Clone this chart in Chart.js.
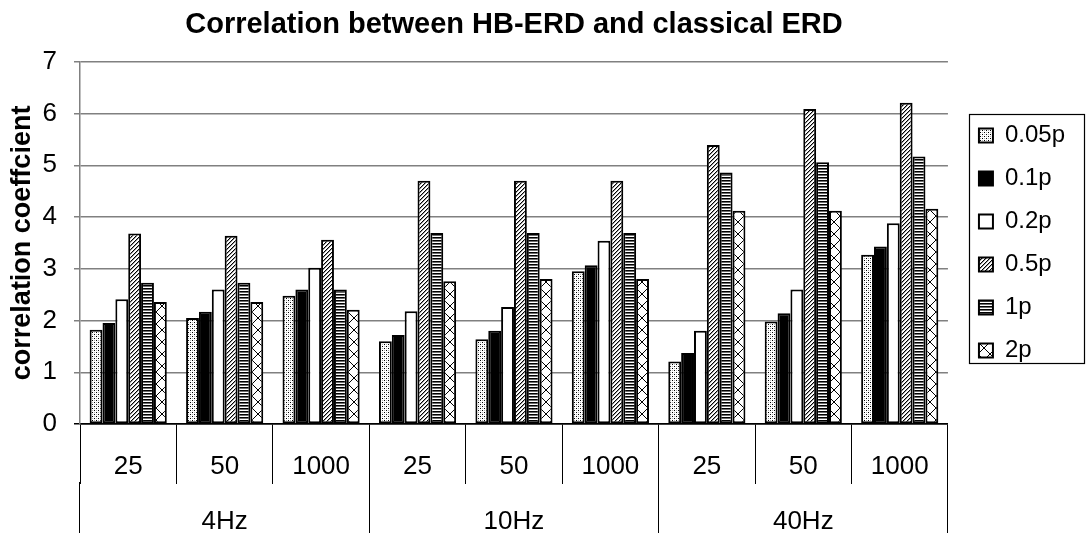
<!DOCTYPE html>
<html>
<head>
<meta charset="utf-8">
<script src="https://cdn.jsdelivr.net/npm/chart.js@4.4.1/dist/chart.umd.min.js"></script>
<style>
  html, body { margin: 0; padding: 0; background: #ffffff; }
  #wrap { width: 1087px; height: 533px; }
</style>
</head>
<body>
<div id="wrap"><canvas id="chart" width="1087" height="533"></canvas></div>
<script>
// Sampling rates (inner axis) and frequency bands (outer axis)
const samplingRates = ['25', '50', '1000', '25', '50', '1000', '25', '50', '1000'];
const bands = ['4Hz', '10Hz', '40Hz'];
const seriesNames = ['0.05p', '0.1p', '0.2p', '0.5p', '1p', '2p'];

// Correlation coefficient per series, one value per sampling rate / band
const p005 = [1.82, 2.05, 2.48, 1.60, 1.64, 2.95, 1.21, 1.98, 3.27];
const p01  = [1.95, 2.17, 2.60, 1.72, 1.80, 3.07, 1.37, 2.14, 3.43];
const p02  = [2.41, 2.60, 3.02, 2.18, 2.26, 3.54, 1.80, 2.60, 3.88];
const p05  = [3.68, 3.64, 3.56, 4.70, 4.70, 4.70, 5.39, 6.09, 6.21];
const p1   = [2.73, 2.73, 2.60, 3.69, 3.69, 3.69, 4.86, 5.06, 5.17];
const p2   = [2.36, 2.36, 2.21, 2.76, 2.80, 2.80, 4.12, 4.12, 4.16];

const yMin = 0, yMax = 7, yStep = 1;

const FONT = "'Liberation Sans', Arial, Helvetica, sans-serif";

// Monochrome fill patterns for the bars
function makePattern(w, h, paint) {
  const c = document.createElement('canvas');
  c.width = w; c.height = h;
  const g = c.getContext('2d');
  g.fillStyle = '#ffffff';
  g.fillRect(0, 0, w, h);
  paint(g, w, h);
  return g.createPattern(c, 'repeat');
}

const dotted = makePattern(4, 4, (g) => {
  g.fillStyle = '#000';
  g.fillRect(0, 0, 1, 1);
  g.fillRect(2, 2, 1, 1);
  g.fillStyle = '#b0b0b0';
  g.fillRect(2, 0, 1, 1);
  g.fillRect(0, 2, 1, 1);
});
const solid = '#000000';
const blank = '#ffffff';
const diagonal = makePattern(4, 4, (g) => {
  g.fillStyle = '#000';
  for (let i = 0; i < 4; i++) g.fillRect(3 - i, i, 1, 1);
  g.fillStyle = '#9a9a9a';
  for (let i = 0; i < 4; i++) g.fillRect((4 - i) % 4, i, 1, 1);
});
const horizontal = makePattern(4, 3, (g) => {
  g.fillStyle = '#000';
  g.fillRect(0, 0, 4, 1);
  g.fillStyle = '#6e6e6e';
  g.fillRect(0, 1, 4, 1);
});
const crossHatch = makePattern(12, 12, (g) => {
  g.strokeStyle = '#000';
  g.lineWidth = 1;
  g.beginPath();
  g.moveTo(0, 0); g.lineTo(12, 12);
  g.moveTo(12, 0); g.lineTo(0, 12);
  g.stroke();
});

const seriesValues = [p005, p01, p02, p05, p1, p2];
const seriesFills = [dotted, solid, blank, diagonal, horizontal, crossHatch];

const datasets = seriesNames.map((name, i) => ({
  label: name,
  data: seriesValues[i],
  backgroundColor: seriesFills[i],
  borderColor: '#000000',
  borderWidth: 2,
  borderSkipped: false,
  xAxisID: 'x',
  yAxisID: 'y',
  categoryPercentage: 0.8,
  barPercentage: 1.0
}));

// Frame around the legend
const legendFrame = {
  id: 'legendFrame',
  afterDraw(chart) {
    const lg = chart.legend;
    if (!lg || !lg.legendHitBoxes || !lg.legendHitBoxes.length) return;
    const hb = lg.legendHitBoxes;
    const first = hb[0], last = hb[hb.length - 1];
    const left = Math.round(first.left) - 9.5;
    const right = chart.width - 2.5;
    const top = Math.round(first.top) - 8.5;
    const bottom = Math.round(last.top + last.height) + 1.5;
    const ctx = chart.ctx;
    ctx.save();
    ctx.strokeStyle = '#000';
    ctx.lineWidth = 1.2;
    ctx.strokeRect(left, top, right - left, bottom - top);
    ctx.restore();
  }
};

Chart.defaults.font.family = FONT;
Chart.defaults.color = '#000';

new Chart(document.getElementById('chart'), {
  type: 'bar',
  data: { labels: samplingRates, datasets },
  plugins: [legendFrame],
  options: {
    responsive: false,
    devicePixelRatio: 1,
    animation: false,
    layout: { padding: { left: 0, right: 12, top: 0, bottom: 0 } },
    plugins: {
      title: {
        display: true,
        text: 'Correlation between HB-ERD and classical ERD',
        font: { family: FONT, size: 29, weight: 'bold' },
        color: '#000',
        fullSize: false,
        padding: { top: 8, bottom: 19 }
      },
      legend: {
        position: 'right',
        fullSize: false,
        align: 'center',
        labels: {
          boxWidth: 14,
          boxHeight: 14,
          padding: 19,
          color: '#000',
          font: { family: FONT, size: 24 }
        }
      },
      tooltip: { enabled: false }
    },
    scales: {
      x: {
        type: 'category',
        position: 'bottom',
        labels: samplingRates,
        offset: true,
        grid: {
          offset: true,
          drawOnChartArea: false,
          drawTicks: true,
          tickLength: 60,
          color: '#000',
          lineWidth: 1
        },
        border: { display: true, color: '#000', width: 1.5 },
        ticks: {
          font: { family: FONT, size: 26 },
          color: '#000',
          padding: -33,
          maxRotation: 0,
          autoSkip: false
        },
        afterFit(scale) { scale.height = 58; }
      },
      x2: {
        type: 'category',
        position: 'bottom',
        weight: 1,
        labels: bands,
        offset: true,
        grid: {
          offset: true,
          drawOnChartArea: false,
          drawTicks: true,
          tickLength: 51,
          color: '#000',
          lineWidth: 1
        },
        border: { display: false },
        ticks: {
          font: { family: FONT, size: 26 },
          color: '#000',
          padding: -26.6,
          maxRotation: 0,
          autoSkip: false
        },
        afterFit(scale) { scale.height = 51; }
      },
      y: {
        type: 'linear',
        position: 'left',
        min: yMin,
        max: yMax,
        ticks: {
          stepSize: yStep,
          font: { family: FONT, size: 26 },
          color: '#000',
          padding: 17
        },
        grid: {
          color: (ctx) => (ctx.tick && ctx.tick.value === 0 ? '#000' : '#808080'),
          lineWidth: 1.5,
          tickLength: 6,
          drawTicks: true
        },
        border: { display: true, color: '#808080', width: 1.5 },
        title: {
          display: true,
          text: 'correlation coeffcient',
          font: { family: FONT, size: 27, weight: 'bold' },
          color: '#000',
          padding: { top: 6, bottom: 0 }
        },
        afterFit(scale) { scale.width = 80; }
      },
      gap: {
        type: 'linear',
        position: 'right',
        display: true,
        grid: { display: false, drawTicks: false },
        border: { display: false },
        ticks: { display: false },
        afterFit(scale) { scale.width = 12; }
      }
    }
  }
});
</script>
</body>
</html>
